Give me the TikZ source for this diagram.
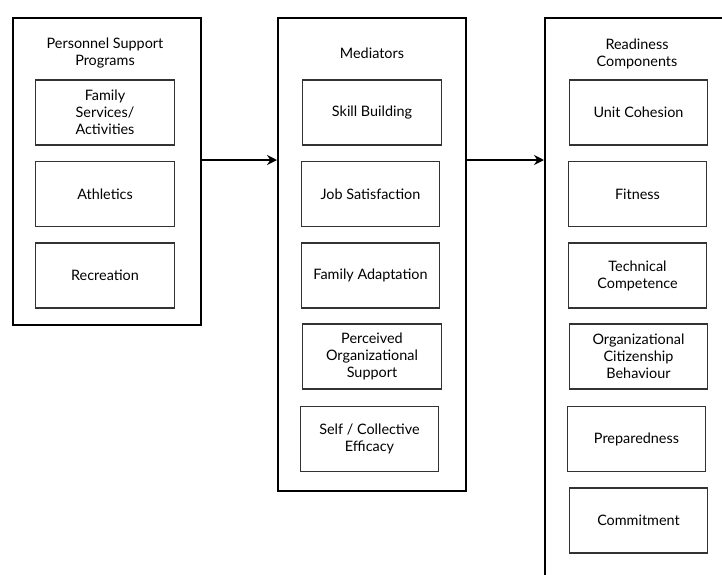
\documentclass[tikz,border=0pt]{standalone}
\usepackage{fontspec}
\setmainfont{Lato}
\usetikzlibrary{arrows.meta}
\begin{document}
\begin{tikzpicture}[x=0.75pt,y=-0.75pt,
  panel/.style={draw=black, line width=1.5pt, anchor=north west, inner sep=0pt},
  item/.style={draw=black!80, line width=0.8pt, minimum width=104pt,
    minimum height=48.75pt, align=center, inner sep=0pt,
    font=\fontsize{10.8}{12.75}\selectfont},
  heading/.style={align=center, inner sep=0pt, font=\fontsize{10.8}{12.75}\selectfont},
  flow/.style={line width=1.5pt, -{Stealth[length=7.5pt,width=7.5pt]}}]
\useasboundingbox (0,0) rectangle (722,575);
\clip (0,0) rectangle (722,575);
\fill[white] (0,0) rectangle (722,575);

% the three panels
\node[panel, minimum width=141pt, minimum height=230.25pt] (programs) at (12,17) {};
\node[panel, minimum width=141pt, minimum height=354.75pt] (mediators) at (277,17) {};
\node[panel, minimum width=192pt, minimum height=474.75pt] (readiness) at (544,17) {};

% panel headings
\node[heading] (programsT) at (105,53.5) {Personnel Support\\Programs};
\node[heading] (mediatorsT) at (372,53) {Mediators};
\node[heading] (readinessT) at (637,53.5) {Readiness\\Components};

% support programs
\node[item] (family) at (105,112.5) {Family\\Services/\\Activities};
\node[item] (athletics) at (105,194) {Athletics};
\node[item] (recreation) at (105,275.5) {Recreation};

% mediators
\node[item] (skill) at (372,112.5) {Skill Building};
\node[item] (job) at (370.5,194) {Job Satisfaction};
\node[item] (adapt) at (370.5,275.5) {Family Adaptation};
\node[item] (pos) at (372,356.5) {Perceived\\Organizational\\Support};
\node[item] (efficacy) at (369.5,439) {Self / Collective\\Efficacy};

% readiness components
\node[item] (cohesion) at (638.5,112.5) {Unit Cohesion};
\node[item] (fitness) at (637.5,194) {Fitness};
\node[item] (technical) at (637.5,275.5) {Technical\\Competence};
\node[item] (ocb) at (638.5,356.5) {Organizational\\Citizenship\\Behaviour};
\node[item] (prepared) at (636.5,439) {Preparedness};
\node[item] (commit) at (638.5,520.5) {Commitment};

% flow between panels
\draw[flow] (programs.east |- 0,160) -- (mediators.west |- 0,160);
\draw[flow] (mediators.east |- 0,160) -- (readiness.west |- 0,160);
\end{tikzpicture}
\end{document}
